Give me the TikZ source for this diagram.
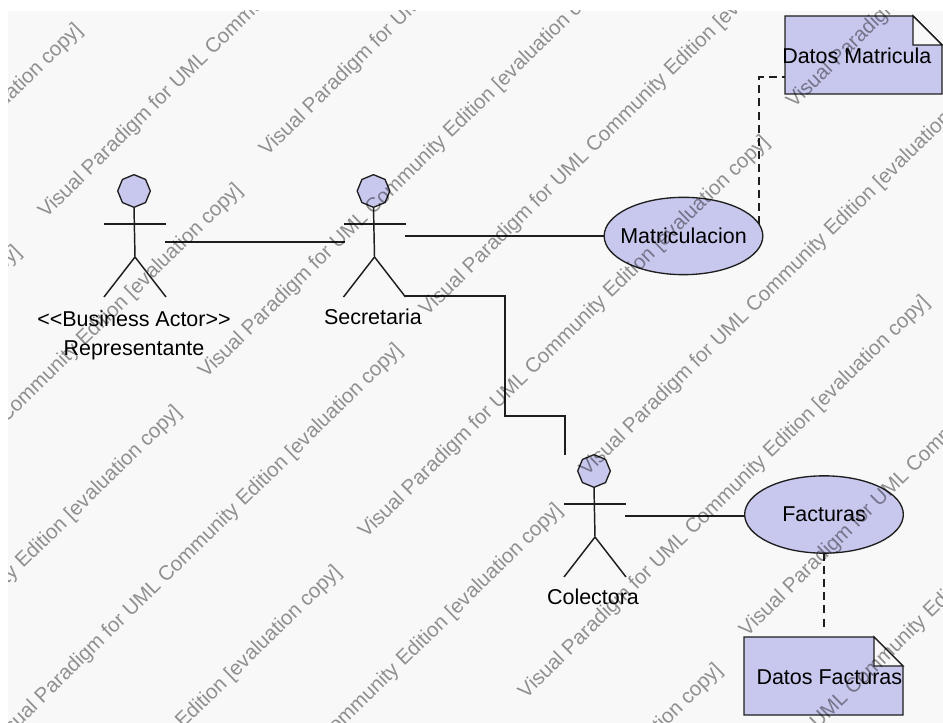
\documentclass[tikz,border=0pt]{standalone}
\usepackage{fontspec}
\setmainfont{Liberation Sans}
\usetikzlibrary{shapes.geometric,calc}
\definecolor{umlfill}{RGB}{200,200,238}
\definecolor{umlline}{RGB}{30,30,30}
\definecolor{canvas}{RGB}{248,248,248}
\tikzset{
  x=0.75pt,y=-0.75pt,
  every node/.style={font=\fontsize{16.1pt}{18pt}\selectfont,text=black,inner sep=0pt,outer sep=0pt},
  conn/.style={draw=umlline,line width=1.1pt},
  dashconn/.style={conn,dash pattern=on 6pt off 3.8pt},
  actorbox/.style={rectangle,minimum width=45pt},
  usecase/.style={ellipse,draw=umlline,fill=umlfill,line width=1pt,inner xsep=-25pt,inner ysep=-4pt,minimum width=119pt,minimum height=58pt},
  head/.style={regular polygon,regular polygon sides=8,shape border rotate=22.5,draw=umlline,fill=umlfill,line width=1pt,minimum size=24.5pt},
  notetext/.style={rectangle,minimum width=118pt,minimum height=58.5pt},
  notebody/.style={draw=umlline,fill=umlfill,line width=1.05pt,line join=miter},
  foldpart/.style={draw=umlline,fill=canvas,line width=1.05pt},
  mark text/.style={font=\fontsize{15.4pt}{18pt}\selectfont,text=black,text opacity=0.42,rotate=44.4,anchor=base west}
}
\newcommand{\umlactor}[3]{%
  \node[head] (#1) at ($(#2,#3)+(-1,-51)$) {};
  \draw[conn] (#1.south) -- ($(#2,#3)+(0,15)$) -- ($(#2,#3)+(-31,55)$);
  \draw[conn] ($(#2,#3)+(0,15)$) -- ($(#2,#3)+(31,55)$);
  \draw[conn] ($(#2,#3)+(-31,-18)$) -- ($(#2,#3)+(31,-18)$);
}
\newcommand{\umlnote}[4]{% x1 y1 x2 y2
  \path[notebody] (#1,#2) -- ({#3-29},#2) -- (#3,{#2+29}) -- (#3,#4) -- (#1,#4) -- cycle;
  \path[foldpart] ({#3-29},#2) -- (#3,{#2+29}) -- ({#3-29},{#2+29}) -- cycle;
}
\begin{document}
\begin{tikzpicture}
\useasboundingbox (0,0) rectangle (943,723);
\fill[white] (0,0) rectangle (943,723);
\fill[canvas] (8,11) rectangle (943,723);

\umlactor{repHead}{135}{242}
\umlactor{secHead}{374.5}{242}
\umlactor{colHead}{595}{522}

\node[actorbox,minimum height=81pt] (rep) at (135,242) {};
\node[actorbox,minimum height=81pt] (sec) at (374.5,242) {};
\node[actorbox,minimum height=91.5pt] (col) at (595,516) {};

\node (repStereo) at (134,319) {<{}<Business Actor>{}>};
\node (repName) at (134,350) {Representante};
\node (secName) at (373,317) {Secretaria};
\node (colName) at (593,597) {Colectora};

\node[usecase] (matr) at (683.5,236) {Matriculacion};
\node[usecase] (fact) at (824,514.5) {Facturas};

\umlnote{785}{16}{942}{94}
\node[notetext] (datm) at (863.5,56) {\hspace*{-10pt}Datos Matricula};
\umlnote{744}{637}{903}{715}
\node[notetext,minimum width=119.4pt] (datf) at (824,677) {\hspace*{8pt}Datos Facturas};

\draw[conn] (rep.east) -- (sec.west);
\draw[conn] (sec.east |- matr.west) -- (matr.west);
\draw[conn] (sec.south east) -- (505,296) -- (505,416) -- (col.north west |- 0,416) -- (col.north west);
\draw[conn] (col.east) -- (col.east -| fact.west);
\draw[dashconn] (matr.9) |- ($(datm.south west)!0.23!(datm.north west)$);
\draw[dashconn,shorten >=7.5pt] (fact.south) -- (datf.north);

\begin{scope}
\clip (8,11) rectangle (943,723);
\foreach \bx/\by in {42/217,202/377,362/537,522/697,682/857,790/107,-386/647,-226/807,-66/967,-165/585,-325/425,-5/745,155/905,315/1065,263/155,423/315,583/475,743/635}
  \node[mark text] at ({\bx+4},{\by+2})
    {Visual Paradigm for UML Community Edition [evaluation copy]};
\end{scope}
\end{tikzpicture}
\end{document}
